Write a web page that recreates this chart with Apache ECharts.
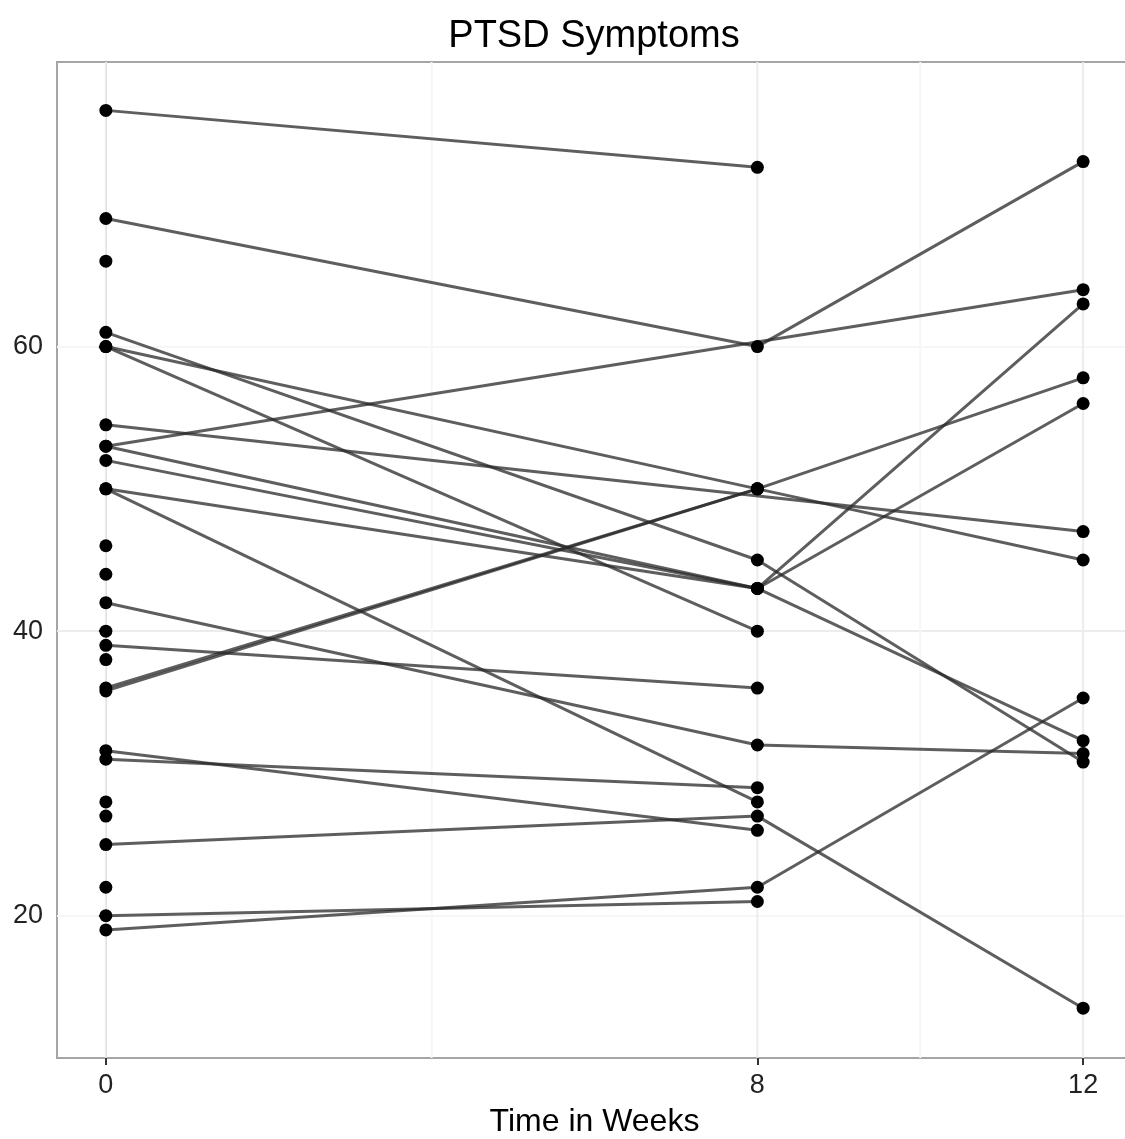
<!DOCTYPE html>
<html>
<head>
<meta charset="utf-8">
<script src="https://cdn.jsdelivr.net/npm/echarts@6/dist/echarts.min.js"></script>
<style>
html,body{margin:0;padding:0;background:#fff;}
#chart{width:1125px;height:1139px;}
</style>
</head>
<body>
<div id="chart"></div>
<script>
// Time points (weeks)
const weeks = [0, 8, 12];
// One entry per participant; null = not measured at that time point
const week0  = [76.6, 69, 66, 61, 60, 60, 54.5, 53, 53, 52, 50, 50, 46, 44, 42, 40, 39, 38, 36, 35.8, 31.6, 31, 28, 27, 25, 22, 20, 19];
const week8  = [72.6, 60, null, 45, 50, 40, null, null, 43, 43, 43, 28, null, null, 32, null, 36, null, 50, 50, 26, 29, null, null, 27, null, 21, 22];
const week12 = [null, 73, null, 30.8, 57.8, null, 47, 64, 63, 56, 32.3, null, null, null, 31.4, null, null, null, 45, null, null, null, null, null, 13.5, null, null, 35.3];
// Axis ticks and grid
const xTicks = [0, 8, 12];
const xMinorGrid = [4, 10];
const yTicks = [20, 40, 60];
const yRange = [10, 80];
const titleText = 'PTSD Symptoms';
const xTitle = 'Time in Weeks';

const byWeek = [week0, week8, week12];
const FONT = '"Liberation Sans", Arial, Helvetica, sans-serif';

const series = [];
// vertical gridlines, placed in data coordinates
xTicks.forEach(v => series.push({
  type: 'line', data: [[v, yRange[0]], [v, yRange[1]]], z: 1, silent: true,
  showSymbol: false, symbol: 'none', lineStyle: {color: '#ececec', width: 2}, animation: false
}));
xMinorGrid.forEach(v => series.push({
  type: 'line', data: [[v, yRange[0]], [v, yRange[1]]], z: 1, silent: true,
  showSymbol: false, symbol: 'none', lineStyle: {color: '#f6f6f6', width: 2}, animation: false
}));
const points = [];
for (let i = 0; i < week0.length; i++) {
  const d = [];
  weeks.forEach((w, k) => {
    const v = byWeek[k][i];
    if (v !== null && v !== undefined) { d.push([w, v]); points.push([w, v]); }
  });
  series.push({
    type: 'line', data: d, z: 2, silent: true,
    showSymbol: false, symbol: 'none',
    lineStyle: {color: 'rgba(40,40,40,0.75)', width: 3},
    animation: false
  });
}
series.push({
  type: 'scatter', data: points, z: 5, symbol: 'circle', symbolSize: 13,
  itemStyle: {color: '#000', opacity: 1}, animation: false, silent: true
});

const chart = echarts.init(document.getElementById('chart'), null, {renderer: 'canvas'});
chart.setOption({
  backgroundColor: '#fff',
  animation: false,
  grid: {left: 57, right: -7, top: 62, bottom: 81, show: true, borderColor: '#a5a5a5', borderWidth: 2,
         backgroundColor: 'transparent', containLabel: false, outerBoundsMode: 'none'},
  graphic: [{
    type: 'text', x: 594, y: 37,
    style: {text: titleText, font: '38px ' + FONT, fill: '#000', textAlign: 'center', textVerticalAlign: 'middle'}
  }],
  xAxis: {
    type: 'value', min: -0.6, max: 12.6,
    axisLine: {show: true, lineStyle: {color: '#a5a5a5', width: 2}},
    axisTick: {show: true, customValues: xTicks, length: 7, lineStyle: {color: '#333', width: 2}},
    axisLabel: {customValues: xTicks, color: '#222', fontSize: 27, fontFamily: FONT, margin: 14},
    splitLine: {show: false},
    name: xTitle, nameLocation: 'middle', nameGap: 48,
    nameTextStyle: {color: '#000', fontSize: 32, fontFamily: FONT}
  },
  yAxis: {
    type: 'value', min: yRange[0], max: yRange[1], interval: 10,
    axisLine: {show: true, lineStyle: {color: '#a5a5a5', width: 2}},
    axisTick: {show: true, customValues: yTicks, length: 7, lineStyle: {color: '#333', width: 2}},
    axisLabel: {customValues: yTicks, color: '#222', fontSize: 27, fontFamily: FONT, margin: 14},
    splitLine: {show: true, lineStyle: {color: ['#f6f6f6', '#ececec'], width: 2}}
  },
  series: series
});
</script>
</body>
</html>
